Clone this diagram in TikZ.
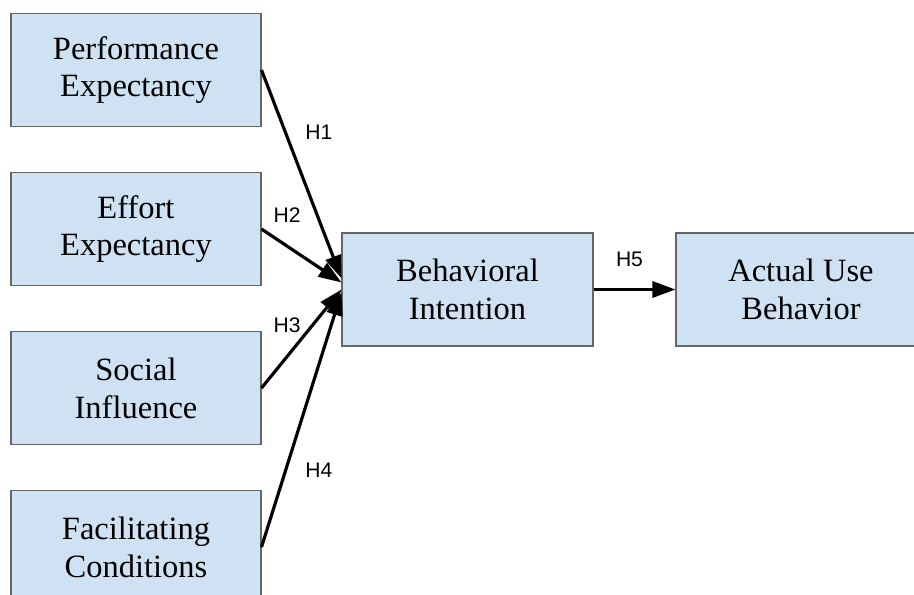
\documentclass[tikz,border=0pt]{standalone}
\usepackage{fontspec}
\setmainfont{Liberation Serif}
\newfontfamily\labelfont{Liberation Sans}
\usepackage{xcolor}
\usetikzlibrary{arrows.meta, positioning}
\definecolor{boxblue}{HTML}{CFE2F3}
\definecolor{boxline}{HTML}{666666}

\begin{document}
\begin{tikzpicture}[
    x=0.02cm, y=-0.02cm,
    node distance=0.9cm,
    construct/.style={rectangle, draw=boxline, fill=boxblue, line width=0.6pt,
        minimum width=5cm, minimum height=2.26cm, align=center,
        font=\fontsize{18.5}{21.5}\selectfont},
    arrow/.style={-{Triangle[length=0.46cm, width=0.32cm]}, line width=1.8pt, draw=black},
    hyp/.style={font=\labelfont\fontsize{12}{14}\selectfont}
]
\useasboundingbox (0,0) rectangle (914,595);

% Determinants
\node[construct] (pe) at (136,70) {Performance\\Expectancy};
\node[construct, below=of pe] (ee) {Effort\\Expectancy};
\node[construct, below=of ee] (si) {Social\\Influence};
\node[construct, below=of si] (fc) {Facilitating\\Conditions};

% Intention and use
\node[construct, minimum width=5.02cm] (bi) at (467.5,289.5) {Behavioral\\Intention};
\node[construct, right=1.64cm of bi] (au) {Actual Use\\Behavior};

% Arrows
\draw[arrow] (pe.east) -- node[hyp, pos=0.3, right=0.25cm] {H1} ([yshift=0.22cm]bi.west);
\draw[arrow] (ee.east) -- node[hyp, pos=0.32, above=0.33cm] {H2} ([yshift=0.14cm]bi.west);
\draw[arrow] (si.east) -- node[hyp, pos=0.32, above=0.33cm] {H3} ([yshift=0.0cm]bi.west);
\draw[arrow] (fc.east) -- node[hyp, pos=0.3, right=0.25cm] {H4} ([yshift=-0.06cm]bi.west);
\draw[arrow] (bi) -- node[hyp, above=0.3cm, xshift=-0.1cm] {H5} (au);

\end{tikzpicture}
\end{document}
